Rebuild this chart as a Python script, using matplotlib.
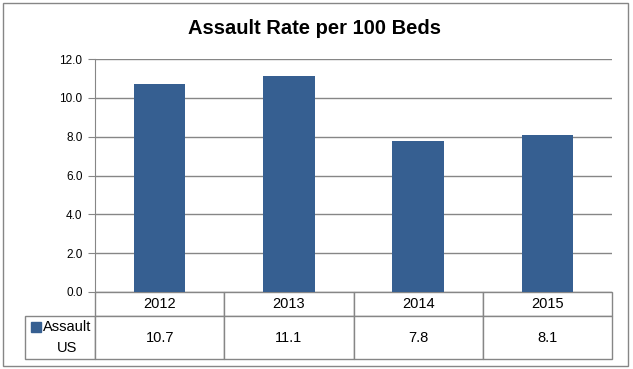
import matplotlib
matplotlib.use('Agg')
import matplotlib.pyplot as plt
from matplotlib.patches import Rectangle

years = ['2012', '2013', '2014', '2015']
rates = [10.7, 11.1, 7.8, 8.1]
series_name = 'Assault US'
title = 'Assault Rate per 100 Beds'

BAR = '#365F91'
GRID = '#868686'

plt.rcParams['font.family'] = ['Liberation Sans', 'DejaVu Sans']

fig = plt.figure(figsize=(6.33, 3.69), dpi=100)
W, H = 633.0, 369.0

# outer chart border
fig.patches.append(Rectangle((3 / W, 3 / H), 625 / W, 363 / H, transform=fig.transFigure,
                             fill=False, edgecolor=GRID, linewidth=1))

ax = fig.add_axes([95 / W, (H - 292) / H, 517 / W, 233 / H])
x = list(range(len(years)))
ax.bar(x, rates, width=0.4, color=BAR, zorder=3)
ax.set_xlim(-0.5, len(years) - 0.5)
ax.set_ylim(0, 12)
ax.set_yticks([0, 2, 4, 6, 8, 10, 12])
ax.set_yticklabels(['%.1f' % v for v in [0, 2, 4, 6, 8, 10, 12]], fontsize=8.5)
ax.set_xticks([])
ax.grid(axis='y', color=GRID, linewidth=1, zorder=0)
for s in ['top', 'right', 'bottom']:
    ax.spines[s].set_visible(False)
ax.spines['left'].set_color(GRID)
ax.tick_params(axis='y', length=5, color=GRID, pad=4)

fig.text(315 / W, (H - 29) / H, title, fontsize=14.5, fontweight='bold',
         ha='center', va='center')

# data table under the plot (first column holds the series label)
cells = [[''] + years, [''] + ['%.1f' % v for v in rates]]
tbl = ax.table(cellText=cells, cellLoc='center',
               bbox=[-70 / 517, -67 / 233, 587 / 517, 67 / 233])
tbl.auto_set_font_size(False)
for (r, c), cell in tbl.get_celld().items():
    cell.set_edgecolor(GRID)
    cell.set_linewidth(1)
    cell.get_text().set_fontsize(10.5)
    cell.set_width(70 if c == 0 else 129)
    cell.set_height(24 if r == 0 else 43)
tbl[0, 0].visible_edges = 'open'

# legend key + row label
ax.plot([-59 / 517], [-35 / 233], marker='s', markersize=7, color=BAR,
        transform=ax.transAxes, clip_on=False)
name1, name2 = series_name.split(' ')
ax.text(-52 / 517, -35 / 233, name1, transform=ax.transAxes, fontsize=10.5,
        ha='left', va='center')
ax.text(-28 / 517, -56 / 233, name2, transform=ax.transAxes, fontsize=10.5,
        ha='center', va='center')

fig.savefig('out.png', dpi=100)
